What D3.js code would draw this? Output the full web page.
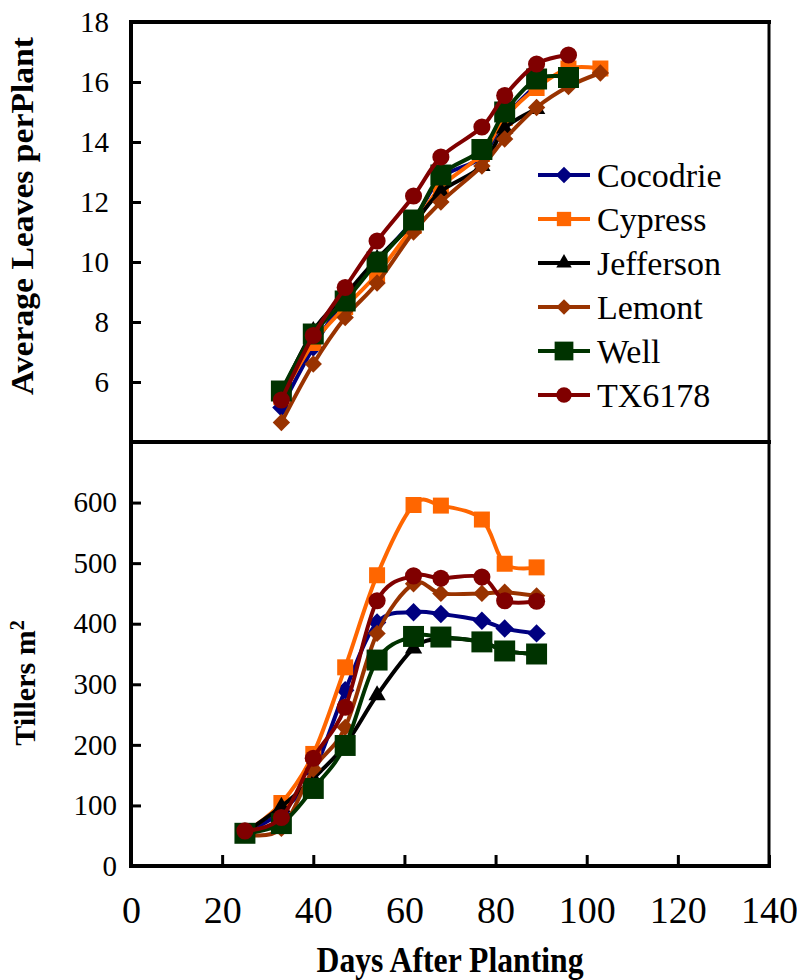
<!DOCTYPE html>
<html>
<head>
<meta charset="utf-8">
<script src="https://cdn.jsdelivr.net/npm/d3@7"></script>
<style>
  body { margin: 0; background: #fff; }
</style>
</head>
<body>
<div id="chart-container"></div>
<script>
// --- data ---
const varieties = ['Cocodrie', 'Cypress', 'Jefferson', 'Lemont', 'Well', 'TX6178'];

const leafDays = [33, 40, 47, 54, 62, 68, 77, 82, 89, 96, 103];
const cocodrieLeaves = [5.15, 7.15, 8.8, 10.05, 11.4, 12.8, 13.5, 14.8, 15.9, null, null];
const cypressLeaves = [5.5, 7.3, 8.5, 9.6, 11.2, 12.5, 13.6, 14.8, 15.8, 16.45, 16.45];
const jeffersonLeaves = [5.6, 7.7, 8.9, 10.1, 11.3, 12.35, 13.2, 14.45, 15.1, null, null];
const lemontLeaves = [4.65, 6.6, 8.15, 9.3, 11.0, 12.0, 13.2, 14.1, 15.15, 15.85, 16.3];
const wellLeaves = [5.7, 7.6, 8.7, 10.0, 11.4, 12.9, 13.75, 15.0, 16.1, 16.15, null];
const tx6178Leaves = [5.4, 7.55, 9.15, 10.7, 12.2, 13.5, 14.5, 15.55, 16.6, 16.9, null];

const tillerDays = [25, 33, 40, 47, 54, 62, 68, 77, 82, 89];
const cocodrieTillers = [55, 90, 155, 290, 402, 419, 416, 405, 392, 384];
const cypressTillers = [55, 104, 185, 328, 480, 596, 595, 572, 499, 493];
const jeffersonTillers = [55, 98, 145, 200, 282, 359, 375, 370, 355, 350];
const lemontTillers = [52, 62, 160, 229, 384, 466, 450, 450, 452, 446];
const wellTillers = [54, 70, 128, 199, 340, 379, 378, 370, 355, 350];
const tx6178Tillers = [58, 80, 178, 262, 438, 479, 475, 477, 438, 437];

const xTicks = [0, 20, 40, 60, 80, 100, 120, 140];
const leafTicks = [6, 8, 10, 12, 14, 16, 18];
const tillerTicks = [0, 100, 200, 300, 400, 500, 600];

// --- styles ---
const styles = {
  Cocodrie: { color: '#000080', marker: 'diamond', size: 170 },
  Cypress: { color: '#ff6600', marker: 'square', size: 256 },
  Jefferson: { color: '#000000', marker: 'triangle', size: 130 },
  Lemont: { color: '#993300', marker: 'diamond', size: 150 },
  Well: { color: '#003300', marker: 'square', size: 440 },
  TX6178: { color: '#800000', marker: 'circle', size: 230 },
};

const serif = 'Liberation Serif';
const dimensions = { width: 797, height: 980 };
const frame = { left: 131, right: 769, top: 22, middle: 442, bottom: 866 };

const x = d3.scaleLinear().domain([0, 140]).range([frame.left, frame.right]);
const yLeaves = d3.scaleLinear().domain([4, 18]).range([frame.middle, frame.top]);
const yTillers = d3.scaleLinear().domain([0, 700]).range([frame.bottom, frame.middle]);

const leafValues = [cocodrieLeaves, cypressLeaves, jeffersonLeaves, lemontLeaves, wellLeaves, tx6178Leaves];
const tillerValues = [cocodrieTillers, cypressTillers, jeffersonTillers, lemontTillers, wellTillers, tx6178Tillers];

const svg = d3.select('#chart-container')
  .append('svg')
  .attr('width', dimensions.width)
  .attr('height', dimensions.height);

function symbolFor(kind, size) {
  const type = {
    diamond: d3.symbolSquare,
    square: d3.symbolSquare,
    triangle: d3.symbolTriangle,
    circle: d3.symbolCircle,
  }[kind];
  return d3.symbol().type(type).size(size)();
}

function drawMarker(g, name, cx, cy, scale = 1) {
  const s = styles[name];
  const rot = s.marker === 'diamond' ? ' rotate(45)' : '';
  g.append('path')
    .attr('d', symbolFor(s.marker, s.size * scale))
    .attr('transform', `translate(${cx},${cy})${rot}`)
    .attr('fill', s.color);
}

function drawSeries(days, values, y) {
  const line = d3.line()
    .defined(d => d.v != null)
    .x(d => x(d.day))
    .y(d => y(d.v))
    .curve(d3.curveCardinal.tension(0));

  varieties.forEach((name, i) => {
    const pts = days.map((day, j) => ({ day, v: values[i][j] }));
    const g = svg.append('g');
    g.append('path')
      .attr('d', line(pts))
      .attr('fill', 'none')
      .attr('stroke', styles[name].color)
      .attr('stroke-width', 4)
      .attr('stroke-linejoin', 'round');
    pts.filter(p => p.v != null).forEach(p => drawMarker(g, name, x(p.day), y(p.v)));
  });
}

function drawAxes() {
  const top = svg.append('g')
    .attr('transform', `translate(${frame.left},0)`)
    .call(d3.axisLeft(yLeaves).tickValues(leafTicks).tickSize(-10).tickPadding(22));
  const bottom = svg.append('g')
    .attr('transform', `translate(${frame.left},0)`)
    .call(d3.axisLeft(yTillers).tickValues(tillerTicks.slice(1)).tickSize(-10).tickPadding(14));
  const zeroLabel = svg.append('g')
    .attr('transform', `translate(${frame.left},0)`)
    .call(d3.axisLeft(yTillers).tickValues([0]).tickSize(0).tickPadding(14));
  const xAxis = svg.append('g')
    .attr('transform', `translate(0,${frame.bottom})`)
    .call(d3.axisBottom(x).tickValues(xTicks).tickSize(-11).tickPadding(30));

  [top, bottom, zeroLabel, xAxis].forEach(a => {
    a.attr('font-family', serif);
    a.select('.domain').remove();
    a.selectAll('line').attr('stroke', '#000').attr('stroke-width', 3);
    a.selectAll('text').attr('font-size', 29);
  });
  xAxis.selectAll('text').attr('font-size', 38);

  const border = (x1, y1, x2, y2, w) => svg.append('line')
    .attr('x1', x1).attr('y1', y1).attr('x2', x2).attr('y2', y2)
    .attr('stroke', '#000').attr('stroke-width', w);
  border(frame.left - 2, frame.top, frame.right + 2, frame.top, 4);
  border(frame.left, frame.top, frame.left, frame.bottom + 2, 4);
  border(frame.right, frame.top, frame.right, frame.bottom, 3);
  border(frame.left - 2, frame.middle, frame.right + 2, frame.middle, 4);
  border(frame.left - 2, frame.bottom, frame.right + 2, frame.bottom, 4);
}

function drawTitles() {
  svg.append('text')
    .attr('transform', 'translate(33,216) rotate(-90)')
    .attr('text-anchor', 'middle')
    .attr('font-weight', 'bold')
    .attr('font-size', 31)
    .attr('textLength', 358)
    .attr('lengthAdjust', 'spacingAndGlyphs')
    .text('Average Leaves perPlant');

  const tillers = svg.append('text')
    .attr('transform', 'translate(35,683) rotate(-90)')
    .attr('text-anchor', 'middle')
    .attr('font-weight', 'bold')
    .attr('font-size', 30);
  tillers.append('tspan').text('Tillers m');
  tillers.append('tspan').attr('font-size', 20).attr('dy', -11).text('2');

  svg.append('text')
    .attr('x', (frame.left + frame.right) / 2)
    .attr('y', 972)
    .attr('text-anchor', 'middle')
    .attr('font-weight', 'bold')
    .attr('font-size', 36)
    .attr('textLength', 267)
    .attr('lengthAdjust', 'spacingAndGlyphs')
    .text('Days After Planting');
}

function drawLegend() {
  const rowY = d3.scalePoint().domain(varieties).range([175, 395]);
  varieties.forEach(name => {
    const y = rowY(name);
    const g = svg.append('g');
    g.append('line')
      .attr('x1', 538).attr('x2', 590).attr('y1', y).attr('y2', y)
      .attr('stroke', styles[name].color).attr('stroke-width', 4);
    drawMarker(g, name, 564, y, 0.8);
    g.append('text')
      .attr('x', 597).attr('y', y)
      .attr('dy', '0.35em')
      .attr('font-size', 34)
      .text(name);
  });
}

drawSeries(leafDays, leafValues, yLeaves);
drawSeries(tillerDays, tillerValues, yTillers);
drawLegend();
drawAxes();
drawTitles();

// set the face on every label directly, inheritance alone was not reliable
svg.selectAll('text').attr('font-family', serif).attr('fill', '#000');
</script>
</body>
</html>
